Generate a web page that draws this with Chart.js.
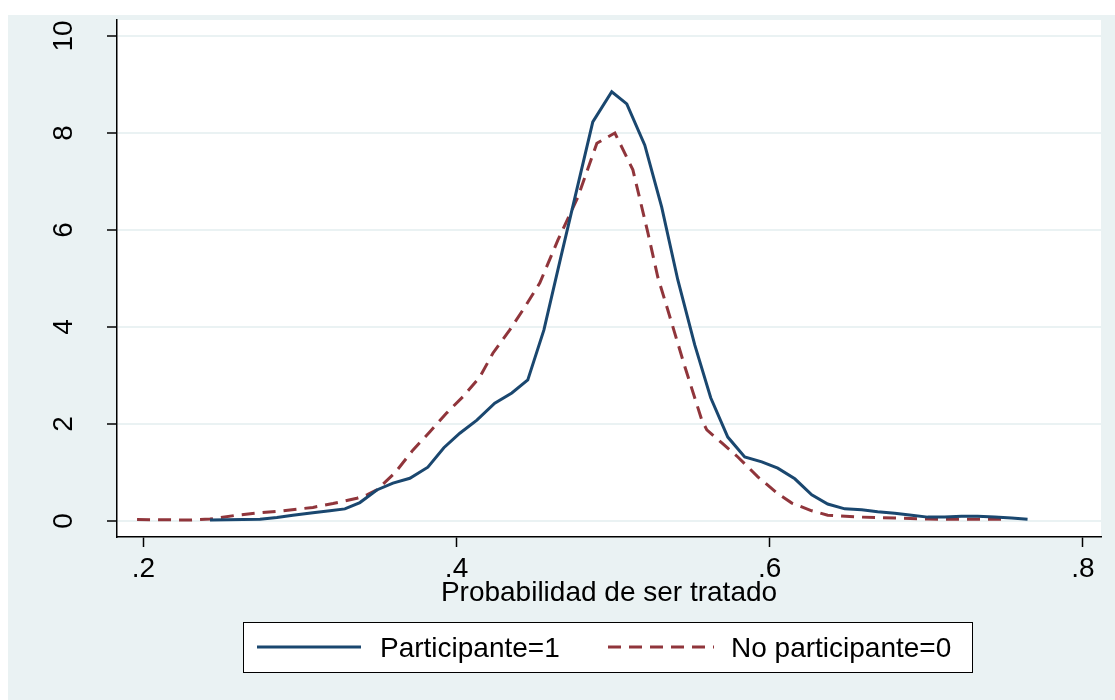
<!DOCTYPE html>
<html>
<head>
<meta charset="utf-8">
<script src="https://cdn.jsdelivr.net/npm/chart.js@4.4.1/dist/chart.umd.min.js"></script>
<style>
  html, body { margin: 0; padding: 0; background: #fff; }
  canvas { display: block; }
</style>
</head>
<body>
<canvas id="myChart" width="1115" height="700"></canvas>
<script>
// tick values
const xTicks = [0.2, 0.4, 0.6, 0.8];
const yTicks = [0, 2, 4, 6, 8, 10];

// Participante=1 (kernel density)
const partX = [0.2426, 0.2636, 0.2745, 0.2853, 0.2955, 0.3083, 0.3191, 0.3287, 0.3383, 0.3491,
    0.3594, 0.3702, 0.3817, 0.3919, 0.4021, 0.4130, 0.4244, 0.4353, 0.4455, 0.4558,
    0.4666, 0.4775, 0.4870, 0.4991, 0.5087, 0.5202, 0.5310, 0.5413, 0.5521, 0.5623,
    0.5732, 0.5840, 0.5949, 0.6051, 0.6160, 0.6268, 0.6370, 0.6479, 0.6587, 0.6689,
    0.6798, 0.6906, 0.7008, 0.7117, 0.7225, 0.7327, 0.7436, 0.7544, 0.7646];
const partY = [0.02, 0.03, 0.035, 0.07, 0.12, 0.17, 0.21, 0.25, 0.38, 0.64,
    0.78, 0.88, 1.11, 1.51, 1.81, 2.08, 2.43, 2.64, 2.91, 3.94,
    5.44, 6.93, 8.23, 8.85, 8.60, 7.75, 6.47, 4.97, 3.63, 2.54,
    1.73, 1.32, 1.22, 1.09, 0.87, 0.54, 0.35, 0.25, 0.23, 0.19,
    0.16, 0.12, 0.08, 0.08, 0.10, 0.10, 0.08, 0.06, 0.035];

// No participante=0
const noPartX = [0.1960, 0.2298, 0.2426, 0.2598, 0.2745, 0.2892, 0.3083, 0.3211, 0.3364, 0.3428,
    0.3491, 0.3606, 0.3721, 0.3830, 0.3938, 0.4040, 0.4149, 0.4232, 0.4340, 0.4436,
    0.4532, 0.4647, 0.4775, 0.4896, 0.5011, 0.5126, 0.5222, 0.5285, 0.5349, 0.5458,
    0.5566, 0.5598, 0.5694, 0.5796, 0.5924, 0.6045, 0.6141, 0.6268, 0.6370, 0.6587,
    0.6798, 0.7008, 0.7225, 0.7519];
const noPartY = [0.03, 0.02, 0.04, 0.12, 0.17, 0.21, 0.28, 0.36, 0.47, 0.54,
    0.64, 0.99, 1.46, 1.84, 2.23, 2.56, 2.97, 3.46, 3.94, 4.41,
    4.91, 5.79, 6.68, 7.79, 8.00, 7.24, 5.94, 5.03, 4.35, 3.18,
    2.08, 1.88, 1.61, 1.32, 0.91, 0.58, 0.37, 0.21, 0.12, 0.08,
    0.06, 0.04, 0.035, 0.035];

const blue = '#1A476F';
const red = '#90353B';
const bg = '#EAF2F3';
const font = '"Liberation Sans", Arial, sans-serif';

// Stata style background: light outer region, white plot region
const background = {
    id: 'background',
    beforeDraw(chart) {
        const c = chart.ctx;
        const a = chart.chartArea;
        c.save();
        c.fillStyle = '#fff';
        c.fillRect(0, 0, chart.width, chart.height);
        c.fillStyle = bg;
        c.fillRect(8, 15, chart.width - 8, chart.height - 15);
        c.fillStyle = '#fff';
        c.fillRect(a.left, a.top, a.right - a.left, a.bottom - a.top);
        c.restore();
    }
};

// rotated y tick labels and the boxed legend
const extras = {
    id: 'extras',
    afterDraw(chart) {
        const c = chart.ctx;
        const ys = chart.scales.y;
        c.save();
        c.fillStyle = '#000';
        c.font = '28px ' + font;
        c.textAlign = 'center';
        c.textBaseline = 'alphabetic';
        yTicks.forEach(v => {
            c.save();
            c.translate(72, ys.getPixelForValue(v));
            c.rotate(-Math.PI / 2);
            c.fillText(String(v), 0, 0);
            c.restore();
        });

        // legend
        c.fillStyle = '#fff';
        c.fillRect(243, 622, 729, 50);
        c.strokeStyle = '#000';
        c.lineWidth = 1;
        c.strokeRect(243.5, 622.5, 729, 50);

        c.lineWidth = 3;
        c.strokeStyle = blue;
        c.beginPath();
        c.moveTo(257, 647);
        c.lineTo(361, 647);
        c.stroke();

        c.strokeStyle = red;
        c.setLineDash([13, 8]);
        c.beginPath();
        c.moveTo(608, 647);
        c.lineTo(714, 647);
        c.stroke();
        c.setLineDash([]);

        c.fillStyle = '#000';
        c.textAlign = 'left';
        c.textBaseline = 'alphabetic';
        c.fillText('Participante=1', 380, 657);
        c.fillText('No participante=0', 731, 657);
        c.restore();
    }
};

const ctx = document.getElementById('myChart');
const myChart = new Chart(ctx, {
    type: 'line',
    data: {
        datasets: [{
            label: 'Participante=1',
            data: partX.map((x, i) => ({ x: x, y: partY[i] })),
            borderColor: blue,
            borderWidth: 3,
            pointRadius: 0,
            tension: 0,
            fill: false
        }, {
            label: 'No participante=0',
            data: noPartX.map((x, i) => ({ x: x, y: noPartY[i] })),
            borderColor: red,
            borderWidth: 3,
            borderDash: [13, 8],
            pointRadius: 0,
            tension: 0,
            fill: false
        }]
    },
    options: {
        responsive: false,
        animation: false,
        layout: {
            padding: { left: 0, right: 14, top: 20, bottom: 90 }
        },
        plugins: {
            legend: { display: false },
            tooltip: { enabled: false }
        },
        scales: {
            x: {
                type: 'linear',
                min: 0.1832,
                max: 0.8115,
                afterBuildTicks: s => { s.ticks = xTicks.map(v => ({ value: v })); },
                afterFit: s => { s.height = 73; },
                border: { display: true, color: '#000', width: 1.5 },
                grid: {
                    drawOnChartArea: false,
                    drawTicks: true,
                    tickLength: 10,
                    tickColor: '#000',
                    tickWidth: 1.5
                },
                ticks: {
                    color: '#000',
                    padding: 5,
                    maxRotation: 0,
                    font: { family: font, size: 28 },
                    callback: v => String(v).replace(/^0/, '')
                },
                title: {
                    display: true,
                    text: 'Probabilidad de ser tratado',
                    color: '#000',
                    padding: 0,
                    font: { family: font, size: 28, lineHeight: 1.2 }
                }
            },
            y: {
                min: -0.33,
                max: 10.33,
                afterBuildTicks: s => { s.ticks = yTicks.map(v => ({ value: v })); },
                afterFit: s => { s.width = 117; },
                border: { display: true, color: '#000', width: 1.5 },
                grid: {
                    color: bg,
                    lineWidth: 2,
                    drawTicks: true,
                    tickLength: 10,
                    tickColor: '#000',
                    tickWidth: 1.5
                },
                ticks: { display: false }
            }
        }
    },
    plugins: [background, extras]
});
</script>
</body>
</html>
